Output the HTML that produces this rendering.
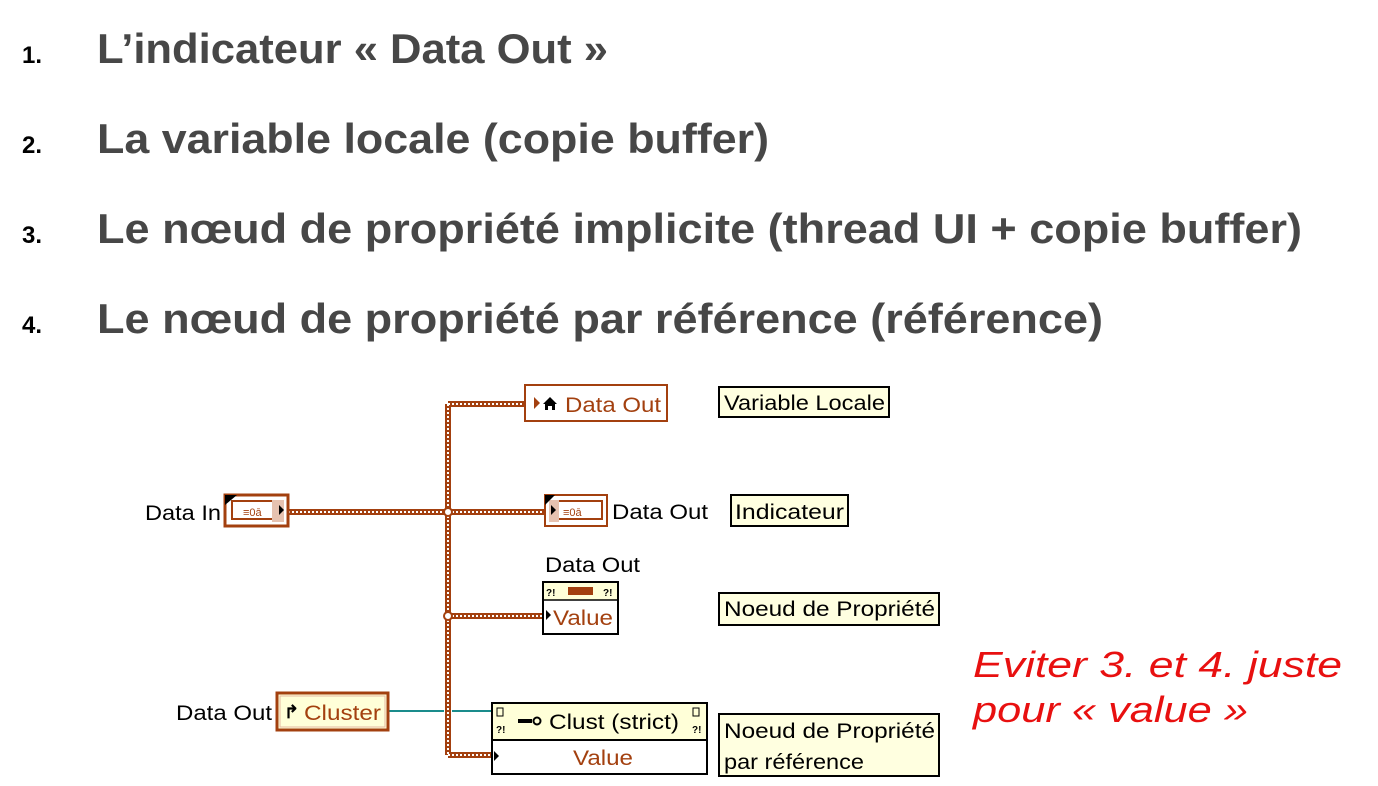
<!DOCTYPE html>
<html><head><meta charset="utf-8"><style>
html,body{margin:0;padding:0;background:#fff;}
svg{display:block}
</style></head><body>
<svg width="1378" height="786" viewBox="0 0 1378 786" xmlns="http://www.w3.org/2000/svg">
<g font-family="'Liberation Sans', sans-serif" fill="#000">
<text x="22" y="63" font-size="24" font-weight="bold">1.</text>
<text x="22" y="153" font-size="24" font-weight="bold">2.</text>
<text x="22" y="243" font-size="24" font-weight="bold">3.</text>
<text x="22" y="333" font-size="24" font-weight="bold">4.</text>
</g>
<g font-family="'Liberation Sans', sans-serif" font-weight="bold" font-size="42" fill="#474747">
<text x="97" y="63" textLength="511" lengthAdjust="spacingAndGlyphs">L’indicateur « Data Out »</text>
<text x="97" y="153" textLength="672" lengthAdjust="spacingAndGlyphs">La variable locale (copie buffer)</text>
<text x="97" y="243" textLength="1205" lengthAdjust="spacingAndGlyphs">Le nœud de propriété implicite (thread UI + copie buffer)</text>
<text x="97" y="333" textLength="1006" lengthAdjust="spacingAndGlyphs">Le nœud de propriété par référence (référence)</text>
</g>

<g fill="none" stroke-linecap="butt">
<path d="M288 512 H544 M448 404 V755 M448 404 H524 M448 616 H542 M448 755 H491" stroke="#a3400f" stroke-width="6"/>
<path d="M288 512 H544 M448 404 V755 M448 404 H524 M448 616 H542 M448 755 H491" stroke="#fff" stroke-width="2" stroke-dasharray="2 2"/>
<path d="M389 711 H444 M452 711 H491" stroke="#1a8c8c" stroke-width="2"/>
</g>
<circle cx="448" cy="512" r="4" fill="#fff" stroke="#a3400f" stroke-width="2"/>
<circle cx="448" cy="616" r="4" fill="#fff" stroke="#a3400f" stroke-width="2"/>

<g font-family="'Liberation Sans', sans-serif" font-size="21">
<rect x="525" y="385" width="142" height="36" fill="#fff" stroke="#a3400f" stroke-width="2"/>
<path d="M534 397 l6 6 l-6 6z" fill="#a3400f"/>
<path d="M543 404 l7 -7 l7 7 h-2 v6 h-3 v-4 h-4 v4 h-3 v-6z" fill="#000"/>
<text x="565" y="412" fill="#a3400f" textLength="96" lengthAdjust="spacingAndGlyphs">Data Out</text>

<text x="145" y="520" textLength="76" lengthAdjust="spacingAndGlyphs">Data In</text>
<rect x="225" y="495" width="63" height="31" fill="#fff" stroke="#a3400f" stroke-width="3"/>
<rect x="232" y="501" width="50" height="18" fill="#fff" stroke="#a3400f" stroke-width="2"/>
<rect x="272" y="500" width="12" height="22" fill="#e6c2b0"/>
<path d="M225 495 h12 l-12 10z" fill="#000"/>
<path d="M279 505 l5 5 l-5 5z" fill="#000"/>
<text x="243" y="516" font-size="11" fill="#a3400f">≡0ā</text>

<rect x="545" y="495" width="62" height="31" fill="#fff" stroke="#a3400f" stroke-width="2"/>
<rect x="552" y="501" width="50" height="18" fill="#fff" stroke="#a3400f" stroke-width="2"/>
<rect x="549" y="500" width="10" height="22" fill="#e6c2b0"/>
<path d="M545 495 h10 l-10 10z" fill="#000"/>
<path d="M551 505 l5 5 l-5 5z" fill="#000"/>
<text x="563" y="516" font-size="11" fill="#a3400f">≡0ā</text>
<text x="612" y="519" textLength="96" lengthAdjust="spacingAndGlyphs">Data Out</text>

<text x="545" y="572" textLength="95" lengthAdjust="spacingAndGlyphs">Data Out</text>
<rect x="543" y="582" width="75" height="52" fill="#fff" stroke="#000" stroke-width="2"/>
<rect x="544" y="583" width="73" height="17" fill="#ffffd8"/>
<line x1="543" y1="600" x2="618" y2="600" stroke="#000" stroke-width="1.5"/>
<text x="546" y="596" font-size="10" font-weight="bold">?!</text>
<text x="603" y="596" font-size="10" font-weight="bold">?!</text>
<rect x="568" y="587" width="25" height="8" fill="#a3400f"/>
<path d="M546 610 l5 5 l-5 5z" fill="#000"/>
<text x="553" y="625" fill="#a3400f" textLength="60" lengthAdjust="spacingAndGlyphs">Value</text>

<text x="176" y="720" textLength="96" lengthAdjust="spacingAndGlyphs">Data Out</text>
<rect x="277" y="693" width="111" height="37" fill="#ffffd8" stroke="#a3400f" stroke-width="3"/>
<rect x="280" y="696" width="105" height="31" fill="none" stroke="#e6b8a0" stroke-width="1"/>
<text x="284" y="718" font-size="18" font-weight="bold">↱</text>
<text x="304" y="720" fill="#a3400f" textLength="77" lengthAdjust="spacingAndGlyphs">Cluster</text>

<rect x="492" y="703" width="215" height="71" fill="#fff" stroke="#000" stroke-width="2"/>
<rect x="493" y="704" width="213" height="35" fill="#ffffd8"/>
<line x1="492" y1="740" x2="707" y2="740" stroke="#000" stroke-width="2"/>
<rect x="497" y="708" width="6" height="8" fill="none" stroke="#000" stroke-width="1"/>
<text x="496" y="733" font-size="10" font-weight="bold">?!</text>
<rect x="693" y="708" width="6" height="8" fill="none" stroke="#000" stroke-width="1"/>
<text x="692" y="733" font-size="10" font-weight="bold">?!</text>
<rect x="518" y="719" width="14" height="4" fill="#000"/>
<circle cx="537" cy="721" r="3.5" fill="none" stroke="#000" stroke-width="2"/>
<text x="549" y="729" textLength="130" lengthAdjust="spacingAndGlyphs">Clust (strict)</text>
<path d="M494 751 l5 5 l-5 5z" fill="#000"/>
<text x="573" y="765" fill="#a3400f" textLength="60" lengthAdjust="spacingAndGlyphs">Value</text>

<rect x="719" y="387" width="170" height="30" fill="#ffffe0" stroke="#000" stroke-width="2"/>
<text x="724" y="410" textLength="161" lengthAdjust="spacingAndGlyphs">Variable Locale</text>
<rect x="731" y="495" width="117" height="31" fill="#ffffe0" stroke="#000" stroke-width="2"/>
<text x="735" y="519" textLength="109" lengthAdjust="spacingAndGlyphs">Indicateur</text>
<rect x="719" y="593" width="220" height="32" fill="#ffffe0" stroke="#000" stroke-width="2"/>
<text x="724" y="616" textLength="211" lengthAdjust="spacingAndGlyphs">Noeud de Propriété</text>
<rect x="719" y="714" width="220" height="62" fill="#ffffe0" stroke="#000" stroke-width="2"/>
<text x="724" y="738" textLength="211" lengthAdjust="spacingAndGlyphs">Noeud de Propriété</text>
<text x="724" y="769" textLength="140" lengthAdjust="spacingAndGlyphs">par référence</text>
</g>

<g font-family="'Liberation Sans', sans-serif" font-style="italic" font-size="36" fill="#e81010">
<text x="973" y="677" textLength="369" lengthAdjust="spacingAndGlyphs">Eviter 3. et 4. juste</text>
<text x="973" y="722" textLength="275" lengthAdjust="spacingAndGlyphs">pour « value »</text>
</g>
</svg>
</body></html>
